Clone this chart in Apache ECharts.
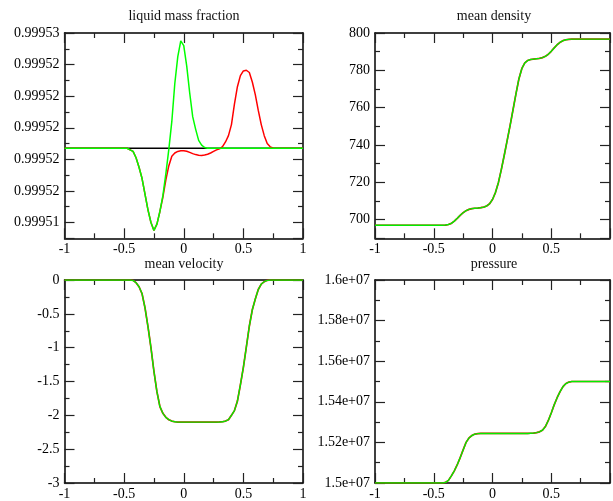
<!DOCTYPE html>
<html>
<head>
<meta charset="utf-8">
<script src="https://cdn.jsdelivr.net/npm/echarts@6/dist/echarts.min.js"></script>
<style>
html,body{margin:0;padding:0;background:#fff;}
#chart{width:613px;height:501px;}
</style>
</head>
<body>
<div id="chart"></div>
<script>
// ---- data ----
var xs = [-1,-0.75,-0.5,-0.475,-0.45,-0.425,-0.4,-0.375,-0.35,-0.325,-0.3,-0.275,-0.25,-0.225,-0.2,-0.175,-0.15,-0.125,-0.1,-0.075,-0.05,-0.025,0,0.025,0.05,0.075,0.1,0.125,0.15,0.175,0.2,0.225,0.25,0.275,0.3,0.325,0.35,0.375,0.4,0.425,0.45,0.475,0.5,0.525,0.55,0.575,0.6,0.625,0.65,0.675,0.7,0.725,0.75,0.775,0.8,0.9,1];

var lmfBlackX = [-1, 1];
var lmfBlack = [0.9995187, 0.9995187];

var lmfGreen = [0.9995187,0.9995187,0.9995187,0.9995187,0.9995186,0.9995185,0.9995181,0.9995175,0.9995168,0.9995158,0.9995148,0.9995140,0.9995135,0.9995139,0.9995147,0.9995157,0.9995171,0.99951865,0.9995204,0.9995228,0.9995245,0.9995255,0.9995252,0.9995239,0.9995222,0.9995207,0.9995199,0.9995192,0.9995189,0.99951875,
0.9995187,0.9995187,0.9995187,0.9995187,0.9995187,0.9995187,0.9995187,0.9995187,0.9995187,0.9995187,0.9995187,0.9995187,0.9995187,0.9995187,0.9995187,0.9995187,0.9995187,0.9995187,0.9995187,0.9995187,0.9995187,0.9995187,0.9995187,0.9995187,0.9995187,0.9995187,0.9995187];

var lmfRed = [0.9995187,0.9995187,0.9995187,0.9995187,0.9995186,0.9995185,0.9995181,0.9995175,0.9995168,0.9995158,0.9995148,0.9995140,0.9995135,0.9995139,0.9995147,
0.9995156,0.9995167,0.9995176,0.9995182,0.9995184,0.9995185,0.99951854,0.99951855,0.99951851,0.99951844,0.99951836,0.9995183,0.99951826,0.99951825,0.99951827,0.99951832,0.9995184,0.9995185,0.9995186,0.99951867,0.9995188,0.9995191,0.9995195,0.9995202,0.9995215,0.9995226,0.9995233,0.9995236,0.99952364,0.9995235,0.9995229,0.9995221,0.9995211,0.9995202,0.9995195,0.999519,0.99951879,0.99951872,0.9995187,0.9995187,0.9995187,0.9995187];

var density = [697,697,697,697,697,697,697.1,697.4,698,699.2,700.7,702.3,703.7,704.8,705.5,705.9,706.1,706.2,706.4,706.7,707.3,708.5,710.8,714.5,719.8,726.8,734.5,742.5,750.5,759,767.5,775.5,781,784,785.3,785.8,786,786.2,786.4,786.8,787.5,788.6,790.2,792,793.7,795,795.9,796.4,796.6,796.7,796.7,796.7,796.7,796.7,796.7,796.7,796.7];

var velocity = [0,0,0,0,0,-0.005,-0.04,-0.1,-0.2,-0.41,-0.69,-1.0,-1.35,-1.65,-1.87,-1.97,-2.03,-2.065,-2.085,-2.095,-2.1,-2.1,-2.1,-2.1,-2.1,-2.1,-2.1,-2.1,-2.1,-2.1,-2.1,-2.1,-2.1,-2.1,-2.098,-2.095,-2.085,-2.065,-2.0,-1.93,-1.79,-1.55,-1.29,-0.99,-0.68,-0.44,-0.28,-0.14,-0.06,-0.025,-0.005,0,0,0,0,0,0];

var pressure = [15000000,15000000,15000000,15000000,15000000,15000000,15003000,15013000,15035000,15060000,15090000,15125000,15163000,15200000,15222000,15234000,15241000,15243000,15244000,15244000,15244000,15244000,15244000,15244000,15244000,15244000,15244000,15244000,15244000,15244000,15244000,15244000,15244000,15244000,15244000,15245000,15246000,15248000,15252000,15260000,15278000,15308000,15345000,15385000,15420000,15450000,15475000,15490000,15497000,15500000,15500000,15500000,15500000,15500000,15500000,15500000,15500000];

var titles = ['liquid mass fraction', 'mean density', 'mean velocity', 'pressure'];
var xTickValues = [-1, -0.5, 0, 0.5, 1];
var xTickLabels = ['-1', '-0.5', '0', '0.5', '1'];
var xTickLabelsRight = ['-1', '-0.5', '0', '0.5', ''];
var lmfTickValues = [0.999514, 0.999516, 0.999518, 0.99952, 0.999522, 0.999524, 0.999526];
var lmfTickLabels = ['0.99951', '0.99952', '0.99952', '0.99952', '0.99952', '0.99952', '0.99953'];
var densTickValues = [700, 720, 740, 760, 780, 800];
var densTickLabels = ['700', '720', '740', '760', '780', '800'];
var velTickValues = [-3, -2.5, -2, -1.5, -1, -0.5, 0];
var velTickLabels = ['-3', '-2.5', '-2', '-1.5', '-1', '-0.5', '0'];
var presTickValues = [15000000, 15200000, 15400000, 15600000, 15800000, 16000000];
var presTickLabels = ['1.5e+07', '1.52e+07', '1.54e+07', '1.56e+07', '1.58e+07', '1.6e+07'];

// ---- layout ----
var FONT = '"Liberation Serif", "DejaVu Serif", serif';
var grids = [
  {left: 64.5, top: 33, width: 238.5, height: 205.3},
  {left: 375, top: 33, width: 239, height: 205.3},
  {left: 64.5, top: 280, width: 238.5, height: 205},
  {left: 375, top: 280, width: 239, height: 205}
];

function labelFn(vals, labs) {
  return function (v) {
    for (var i = 0; i < vals.length; i++) {
      if (Math.abs(v - vals[i]) <= Math.abs(vals[i]) * 1e-9 + 1e-12) return labs[i];
    }
    return '';
  };
}

var lineStyleAxis = {color: '#000', width: 1.5};
function xAxes(gi, labs) {
  var base = {
    type: 'value', gridIndex: gi, min: -1, max: 1, interval: 0.5,
    splitLine: {show: false},
    axisLine: {show: true, onZero: false, lineStyle: lineStyleAxis},
    axisTick: {show: true, inside: true, length: 10, lineStyle: {color: '#222', width: 1.2}},
    minorTick: {show: true, splitNumber: 2, length: 5, lineStyle: {color: '#222', width: 1.2}}
  };
  var bottom = Object.assign({}, base, {position: 'bottom',
    axisLabel: {show: true, margin: 4, color: '#000', fontFamily: FONT, fontSize: 14,
      formatter: labelFn(xTickValues, labs), hideOverlap: false}});
  var top = Object.assign({}, base, {position: 'top', axisLabel: {show: false}});
  return [bottom, top];
}
function yAxes(gi, opts, vals, labs) {
  var base = Object.assign({
    type: 'value', gridIndex: gi, scale: true,
    splitLine: {show: false},
    axisLine: {show: true, onZero: false, lineStyle: lineStyleAxis},
    axisTick: {show: true, inside: true, length: 10, lineStyle: {color: '#222', width: 1.2}},
    minorTick: {show: true, splitNumber: 2, length: 5, lineStyle: {color: '#222', width: 1.2}}
  }, opts);
  var left = Object.assign({}, base, {position: 'left',
    axisLabel: {show: true, margin: 5, color: '#000', fontFamily: FONT, fontSize: 14,
      formatter: labelFn(vals, labs), hideOverlap: false, showMinLabel: true, showMaxLabel: true}});
  var right = Object.assign({}, base, {position: 'right', axisLabel: {show: false}});
  return [left, right];
}

var xAxisArr = [].concat(xAxes(0, xTickLabels), xAxes(1, xTickLabelsRight), xAxes(2, xTickLabels), xAxes(3, xTickLabelsRight));
var yAxisArr = [].concat(
  yAxes(0, {min: 0.999513, max: 0.999526, splitNumber: 6}, lmfTickValues, lmfTickLabels),
  yAxes(1, {min: 690, max: 800, splitNumber: 5}, densTickValues, densTickLabels),
  yAxes(2, {min: -3, max: 0, interval: 0.5}, velTickValues, velTickLabels),
  yAxes(3, {min: 15000000, max: 16000000, interval: 200000}, presTickValues, presTickLabels)
);

function pairs(x, y) { return x.map(function (v, i) { return [v, y[i]]; }); }
function line(gi, data, color, z, w) {
  return {type: 'line', xAxisIndex: gi * 2, yAxisIndex: gi * 2, data: data,
    showSymbol: false, symbol: 'none', smooth: false, silent: true, z: z,
    lineStyle: {color: color, width: w || 1.5}, animation: false};
}

var series = [
  line(0, pairs(lmfBlackX, lmfBlack), '#000000', 2),
  line(0, pairs(xs, lmfRed), '#ff0000', 3),
  line(0, pairs(xs, lmfGreen), '#00ff00', 4),
  line(1, pairs(xs, density), '#ff0000', 3, 1.7),
  line(1, pairs(xs, density), '#00ee00', 4, 1.4),
  line(2, pairs(xs, velocity), '#ff0000', 3, 1.7),
  line(2, pairs(xs, velocity), '#00ee00', 4, 1.4),
  line(3, pairs(xs, pressure), '#ff0000', 3, 1.7),
  line(3, pairs(xs, pressure), '#00ee00', 4, 1.4)
];

var titleCenters = [[184, 9], [494, 9], [184, 257], [494, 257]];
var titleArr = titles.map(function (t, i) {
  return {text: t, left: titleCenters[i][0], top: titleCenters[i][1], textAlign: 'center', padding: 0,
    textStyle: {fontFamily: FONT, fontSize: 14, fontWeight: 'normal', color: '#111'}};
});

var chart = echarts.init(document.getElementById('chart'), null, {renderer: 'canvas'});
chart.setOption({
  animation: false,
  backgroundColor: '#fff',
  title: titleArr,
  grid: grids,
  xAxis: xAxisArr,
  yAxis: yAxisArr,
  series: series
});
</script>
</body>
</html>
